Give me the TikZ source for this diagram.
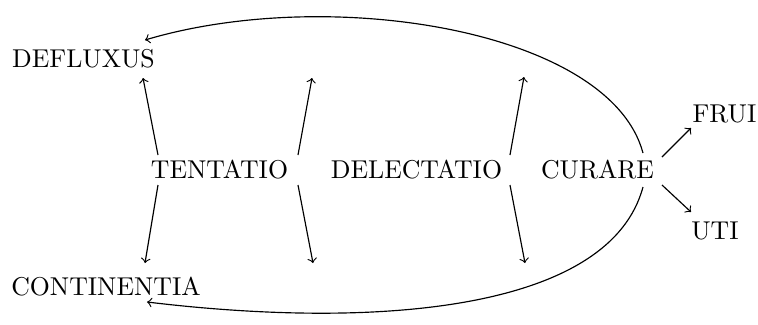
\documentclass[tikz,border=0pt]{standalone}
\usetikzlibrary{calc}
\begin{document}
\begin{tikzpicture}[x=0.388pt,y=-0.388pt,
  word/.style={anchor=base,inner sep=0pt},
  arr/.style={->,line width=0.45pt}]
\useasboundingbox (0,0) rectangle (758,325);
\node[word] (defl) at (83.5,67) {DEFLUXUS};
\node[word] (cont) at (106,295) {CONTINENTIA};
\node[word] (tent) at (219.5,178) {TENTATIO};
\node[word] (dele) at (416.5,178) {DELECTATIO};
\node[word] (cura) at (597.5,178) {CURARE};
\node[word] (frui) at (724.5,122) {FRUI};
\node[word] (uti) at (715,239) {UTI};
\coordinate (tu) at (312,78);
\coordinate (td) at (313,263);
\coordinate (du) at (524,77);
\coordinate (dd) at (525,263);
% TENTATIO arrows
\draw[arr] ($(tent.base)+(-61.5,-23)$) -- ($(defl.base)+(59.5,11)$);
\draw[arr] ($(tent.base)+(-61.5,7)$) -- ($(cont.base)+(39,-32)$);
\draw[arr] ($(tent.base)+(78.5,-23)$) -- (tu);
\draw[arr] ($(tent.base)+(78.5,7)$) -- (td);
% DELECTATIO arrows
\draw[arr] ($(dele.base)+(93.5,-23)$) -- (du);
\draw[arr] ($(dele.base)+(93.5,7)$) -- (dd);
% CURARE arrows
\draw[arr] ($(cura.base)+(64.5,-21)$) -- ($(frui.base)+(-33.5,6)$);
\draw[arr] ($(cura.base)+(64.5,7)$) -- ($(uti.base)+(-24,-27)$);
% big curves
\draw[arr] ($(cura.base)+(45.5,-25)$) .. controls (610,30) and (330,-15) .. ($(defl.base)+(61.5,-27)$);
\draw[arr] ($(cura.base)+(45.5,9)$) .. controls (610,310) and (380,330) .. ($(cont.base)+(41,7)$);
\end{tikzpicture}
\end{document}
